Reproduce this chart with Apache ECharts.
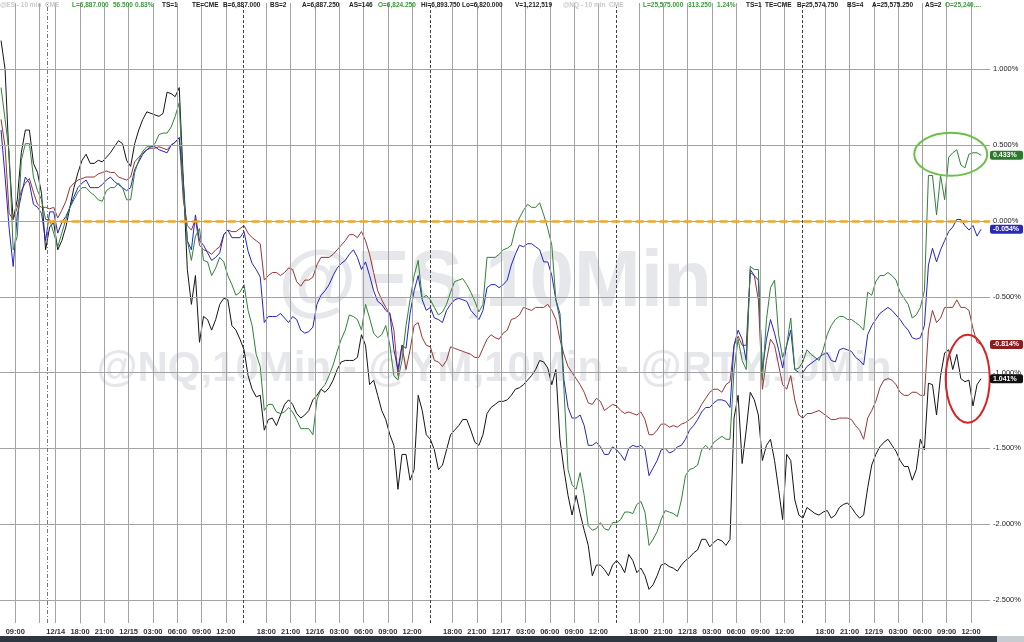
<!DOCTYPE html>
<html><head><meta charset="utf-8">
<script src="https://cdn.jsdelivr.net/npm/echarts@6/dist/echarts.min.js"></script>
<style>html,body{margin:0;padding:0;background:#fff}#c{width:1024px;height:642px}</style>
</head><body><div id="c"></div>
<script>
// x = trading hours since the 12/14 18:00 session open.
// "Hour" arrays hold readings on the hour grid, "Half" arrays the readings half an hour later.
const T0 = -9.75, HALF_STEP = 0.5;

const greenHour = [0.88,0.45,-0.10,0.51,0.29,0.14,0.01,-0.17,0.01,0.14,0.22,0.19,0.14,0.20,0.22,0.22,0.14,0.40,0.49,0.51,
 0.58,0.62,0.78,-0.13,-0.10,-0.26,-0.36,-0.24,-0.36,-0.49,-0.42,-0.69,-0.96,-1.21,-1.26,-1.26,-1.26,-1.37,-1.37,-1.18,
 -1.08,-0.95,-0.78,-0.62,-0.65,-0.55,-0.74,-0.75,-0.82,-1.05,-0.69,-0.36,-0.51,-0.52,-0.62,-0.55,-0.40,-0.38,-0.47,-0.60,
 -0.24,-0.24,-0.19,-0.16,0.02,0.11,0.09,0.04,-0.16,-0.65,-1.64,-1.77,-1.81,-2.04,-1.99,-2.04,-1.99,-1.92,-1.93,-1.85,
 -2.14,-2.05,-1.91,-1.93,-1.84,-1.64,-1.61,-1.48,-1.46,-1.42,-1.44,-0.78,-0.98,-0.32,-1.05,-0.44,-0.75,-0.82,-0.98,-0.93,
 -0.88,-0.92,-0.75,-0.65,-0.63,-0.65,-0.69,-0.47,-0.40,-0.36,-0.36,-0.47,-0.55,-0.62,-0.46,0.30,0.30,0.42,0.47,0.35,0.45,0.433];
const greenHalf = [0.67,-0.19,0.40,0.51,0.20,0.01,-0.08,-0.08,0.09,0.19,0.22,0.17,0.13,0.22,0.25,0.14,0.32,0.46,0.49,0.57,
 0.58,0.69,0.20,-0.26,-0.05,-0.27,-0.31,-0.27,-0.42,-0.47,-0.59,-0.88,-1.25,-1.21,-1.27,-1.23,-1.31,-1.37,-1.41,-1.11,
 -1.02,-0.86,-0.72,-0.63,-0.72,-0.64,-0.77,-0.69,-1.02,-0.92,-0.52,-0.26,-0.49,-0.57,-0.60,-0.47,-0.39,-0.42,-0.53,-0.55,
 -0.24,-0.22,-0.18,-0.05,0.07,0.09,0.12,-0.05,-0.52,-1.11,-1.74,-1.66,-2.01,-2.03,-2.03,-1.99,-1.97,-1.92,-1.87,-1.92,
 -2.10,-1.97,-1.92,-1.95,-1.68,-1.63,-1.51,-1.51,-1.44,-1.44,-0.98,-0.92,-0.30,-0.32,-0.65,-0.39,-0.90,-0.64,-0.97,-0.85,
 -0.90,-0.85,-0.69,-0.63,-0.65,-0.67,-0.72,-0.49,-0.36,-0.34,-0.39,-0.51,-0.64,-0.57,0.30,0.04,0.14,0.45,0.37,0.44,0.45];

const blueHour = [0.60,-0.05,0.04,0.29,0.11,0.05,0.06,-0.08,0.03,0.16,0.25,0.22,0.22,0.27,0.26,0.22,0.22,0.39,0.47,0.49,
 0.46,0.50,0.55,-0.13,0.04,-0.16,-0.26,-0.21,-0.06,-0.11,-0.07,-0.28,-0.37,-0.63,-0.63,-0.64,-0.63,-0.72,-0.73,-0.55,
 -0.46,-0.36,-0.28,-0.22,-0.24,-0.27,-0.46,-0.55,-0.61,-0.98,-0.84,-0.46,-0.52,-0.57,-0.65,-0.59,-0.52,-0.52,-0.59,-0.65,
 -0.44,-0.42,-0.42,-0.29,-0.16,-0.15,-0.17,-0.27,-0.36,-0.61,-1.23,-1.30,-1.35,-1.48,-1.49,-1.54,-1.51,-1.58,-1.48,-1.48,
 -1.68,-1.58,-1.50,-1.52,-1.48,-1.38,-1.31,-1.23,-1.20,-1.18,-1.23,-0.72,-0.92,-0.36,-0.98,-0.65,-0.85,-0.82,-0.98,-1.00,
 -0.94,-0.90,-0.87,-0.93,-0.84,-0.86,-0.92,-0.75,-0.65,-0.59,-0.59,-0.65,-0.72,-0.78,-0.69,-0.18,-0.19,-0.07,0.01,-0.03,-0.03,-0.054];
const blueHalf = [0.29,-0.30,0.17,0.25,0.09,-0.13,0.06,-0.01,0.09,0.22,0.27,0.22,0.24,0.29,0.24,0.20,0.34,0.44,0.49,0.47,
 0.45,0.52,0.27,-0.19,-0.13,-0.21,-0.24,-0.09,-0.11,-0.11,-0.20,-0.32,-0.67,-0.63,-0.61,-0.67,-0.65,-0.74,-0.70,-0.49,
 -0.42,-0.31,-0.26,-0.19,-0.32,-0.36,-0.53,-0.59,-0.85,-0.82,-0.61,-0.36,-0.59,-0.64,-0.67,-0.55,-0.51,-0.53,-0.62,-0.59,
 -0.42,-0.44,-0.39,-0.22,-0.17,-0.15,-0.19,-0.27,-0.52,-1.05,-1.30,-1.28,-1.48,-1.46,-1.54,-1.49,-1.54,-1.50,-1.49,-1.51,
 -1.63,-1.51,-1.53,-1.49,-1.44,-1.35,-1.26,-1.23,-1.18,-1.19,-0.82,-0.78,-0.32,-0.39,-0.78,-0.74,-0.97,-0.72,-1.00,-0.96,
 -0.92,-0.88,-0.92,-0.85,-0.85,-0.90,-0.95,-0.69,-0.61,-0.57,-0.62,-0.69,-0.77,-0.77,-0.29,-0.27,-0.13,-0.04,0.01,-0.06,-0.10];

const redHour = [0.67,0.05,0.09,0.25,0.19,0.09,0.08,0.02,0.13,0.25,0.28,0.29,0.31,0.33,0.32,0.28,0.29,0.42,0.47,0.48,
 0.48,0.50,0.55,-0.03,0.01,-0.19,-0.22,-0.17,-0.06,-0.07,-0.03,-0.11,-0.15,-0.36,-0.34,-0.34,-0.32,-0.43,-0.39,-0.29,
 -0.24,-0.22,-0.16,-0.09,-0.11,-0.13,-0.34,-0.52,-0.61,-1.02,-0.98,-0.69,-0.77,-0.83,-0.93,-0.92,-0.84,-0.86,-0.88,-0.90,
 -0.78,-0.77,-0.74,-0.65,-0.62,-0.58,-0.57,-0.57,-0.59,-0.78,-0.96,-1.04,-1.13,-1.21,-1.19,-1.23,-1.22,-1.27,-1.27,-1.26,
 -1.41,-1.38,-1.34,-1.35,-1.34,-1.31,-1.26,-1.17,-1.11,-1.13,-1.06,-0.76,-0.82,-0.36,-1.11,-0.78,-0.95,-1.11,-1.18,-1.30,
 -1.27,-1.25,-1.29,-1.31,-1.30,-1.31,-1.38,-1.30,-1.19,-1.05,-1.05,-1.13,-1.15,-1.13,-1.15,-0.59,-0.64,-0.57,-0.52,-0.57,-0.71,-0.814];
const redHalf = [0.49,0.01,0.20,0.28,0.11,0.09,0.09,0.07,0.22,0.27,0.29,0.29,0.32,0.32,0.29,0.27,0.39,0.45,0.48,0.49,
 0.47,0.52,0.14,-0.06,-0.16,-0.20,-0.19,-0.09,-0.07,-0.05,-0.08,-0.13,-0.39,-0.34,-0.36,-0.31,-0.40,-0.39,-0.37,-0.24,
 -0.24,-0.19,-0.13,-0.09,-0.07,-0.22,-0.46,-0.57,-0.72,-0.82,-0.85,-0.67,-0.82,-0.92,-0.96,-0.83,-0.85,-0.87,-0.90,-0.84,
 -0.75,-0.78,-0.72,-0.64,-0.57,-0.59,-0.57,-0.55,-0.65,-0.88,-1.00,-1.08,-1.20,-1.17,-1.25,-1.21,-1.25,-1.26,-1.28,-1.31,
 -1.41,-1.34,-1.36,-1.36,-1.33,-1.29,-1.21,-1.13,-1.11,-1.08,-0.82,-0.82,-0.34,-0.52,-0.92,-0.82,-1.08,-1.02,-1.28,-1.27,
 -1.26,-1.27,-1.31,-1.30,-1.30,-1.35,-1.44,-1.25,-1.10,-1.04,-1.08,-1.15,-1.13,-1.15,-0.72,-0.67,-0.57,-0.57,-0.57,-0.59,-0.80];

const blackHour = [1.19,0.40,0.14,0.60,0.38,0.18,-0.04,-0.19,-0.04,0.22,0.40,0.38,0.40,0.42,0.49,0.51,0.36,0.60,0.72,0.70,
 0.71,0.84,0.88,-0.32,-0.36,-0.63,-0.72,-0.55,-0.52,-0.72,-0.85,-1.11,-1.15,-1.31,-1.35,-1.21,-1.21,-1.30,-1.25,-1.15,
 -1.13,-1.05,-0.93,-0.92,-0.90,-0.82,-1.05,-1.25,-1.41,-1.77,-1.54,-1.64,-1.25,-1.44,-1.64,-1.51,-1.38,-1.31,-1.38,-1.48,
 -1.27,-1.21,-1.19,-1.15,-1.10,-1.05,-0.98,-0.93,-1.08,-1.44,-1.81,-1.81,-2.04,-2.34,-2.27,-2.34,-2.24,-2.32,-2.24,-2.29,
 -2.43,-2.34,-2.26,-2.29,-2.27,-2.22,-2.17,-2.10,-2.12,-2.11,-2.10,-1.15,-1.38,-1.18,-1.58,-1.44,-1.77,-1.54,-1.84,-1.96,
 -1.91,-1.94,-1.91,-1.94,-1.87,-1.89,-1.96,-1.76,-1.54,-1.46,-1.48,-1.58,-1.62,-1.64,-1.51,-1.08,-1.02,-0.85,-0.88,-1.06,-1.22,-1.04];
const blackHalf = [1.00,0.01,0.45,0.60,0.32,-0.19,-0.01,-0.13,0.09,0.32,0.44,0.38,0.39,0.45,0.53,0.40,0.51,0.67,0.71,0.69,
 0.85,0.82,0.27,-0.55,-0.80,-0.65,-0.65,-0.51,-0.69,-0.78,-1.02,-1.16,-1.38,-1.30,-1.28,-1.18,-1.27,-1.28,-1.18,-1.11,
 -1.10,-0.98,-0.92,-0.92,-0.75,-1.08,-1.15,-1.31,-1.48,-1.54,-1.71,-1.15,-1.41,-1.51,-1.61,-1.41,-1.35,-1.31,-1.46,-1.41,
 -1.23,-1.19,-1.18,-1.11,-1.08,-1.02,-0.92,-0.97,-0.98,-1.64,-1.94,-1.93,-2.14,-2.27,-2.30,-2.27,-2.27,-2.20,-2.32,-2.34,
 -2.40,-2.27,-2.28,-2.31,-2.24,-2.19,-2.10,-2.15,-2.10,-2.14,-1.30,-1.60,-1.13,-1.28,-1.48,-1.58,-1.97,-1.58,-1.94,-1.89,
 -1.93,-1.92,-1.96,-1.89,-1.86,-1.93,-1.94,-1.61,-1.49,-1.44,-1.52,-1.62,-1.71,-1.44,-1.07,-1.28,-0.87,-0.98,-1.04,-1.05,-1.08];

// x-axis ticks (trading hours) and their labels
const tickPos  = [-8,-5,-3,0,3,6,9,12,15,18,23,26,29,32,35,38,41,46,49,52,55,58,61,64,69,72,75,78,81,84,87,92,95,98,101,104,107,110];
const tickText = ['09:00','','12/14','18:00','21:00','12/15','03:00','06:00','09:00','12:00',
 '18:00','21:00','12/16','03:00','06:00','09:00','12:00',
 '18:00','21:00','12/17','03:00','06:00','09:00','12:00',
 '18:00','21:00','12/18','03:00','06:00','09:00','12:00',
 '18:00','21:00','12/19','03:00','06:00','09:00','12:00'];
const weekendBreak = [-4];
const sessionBreaks = [20.2, 43.2, 66.2, 89.2];
const yTicks = [1.0, 0.5, 0, -0.5, -1.0, -1.5, -2.0, -2.5];
const lastLabels = ['0.433%', '-0.054%', '-0.814%', '1.041%'];

const X_MIN = -9.88, X_MAX = 112.35, Y_MIN = -2.652, Y_MAX = 1.438;
const interleave = (h, m) => h.flatMap((v, i) => i < m.length ? [v, m[i]] : [v]);
const pair = arr => arr.map((v, k) => [T0 + k * HALF_STEP, v]);

const greenSeries = interleave(greenHour, greenHalf);
const blueSeries = interleave(blueHour, blueHalf);
const redSeries = interleave(redHour, redHalf);
const blackSeries = interleave(blackHour, blackHalf);

const COLORS = { green: '#2e8436', blue: '#2424c8', red: '#9c3434', black: '#151515' };
const FONT = '"Liberation Sans", Arial, sans-serif';

const chart = echarts.init(document.getElementById('c'));

function lineSeries(name, arr, color, z) {
  return { name, type: 'line', data: pair(arr), showSymbol: false, symbol: 'none', z,
    lineStyle: { color, width: 1 }, animation: false, silent: true };
}

const option = {
  animation: false,
  backgroundColor: '#fff',
  grid: { left: 0, right: 34, top: 3, bottom: 19 },
  xAxis: {
    type: 'value', min: X_MIN, max: X_MAX,
    splitLine: { show: false }, axisLine: { show: false }, axisTick: { show: false },
    axisLabel: { customValues: tickPos, margin: 5, fontSize: 7.5, fontWeight: 'bold', color: '#333', fontFamily: FONT,
      formatter: v => { const k = tickPos.indexOf(v); return k >= 0 ? tickText[k] : ''; } }
  },
  yAxis: {
    type: 'value', position: 'right', min: Y_MIN, max: Y_MAX,
    splitLine: { show: false },
    axisLine: { show: true, lineStyle: { color: '#a0a0a0' } },
    axisTick: { show: true, customValues: yTicks, length: 3, lineStyle: { color: '#888' } },
    axisLabel: { customValues: yTicks, margin: 3, fontSize: 7.5, color: '#222', fontFamily: FONT,
      formatter: v => v.toFixed(3) + '%' }
  },
  series: [
    { name: 'grid', type: 'line', data: [], z: 1, silent: true,
      markLine: { silent: true, symbol: ['none', 'none'], label: { show: false }, animation: false,
        data: [
          ...yTicks.map(v => ({ yAxis: v, lineStyle: { color: '#a3a3a3', width: 1, type: 'solid' } })),
          ...tickPos.map(v => ({ xAxis: v, lineStyle: { color: '#a3a3a3', width: 1, type: 'solid' } })),
          ...weekendBreak.map(v => ({ xAxis: v, lineStyle: { color: '#777', width: 1, type: [4, 2, 1, 2] } })),
          ...sessionBreaks.map(v => ({ xAxis: v, lineStyle: { color: '#444', width: 1, type: [3, 2] } }))
        ] } },
    lineSeries('@RTY', blackSeries, COLORS.black, 2),
    lineSeries('@NQ', redSeries, COLORS.red, 2),
    lineSeries('@ES', blueSeries, COLORS.blue, 2),
    lineSeries('@YM', greenSeries, COLORS.green, 2),
    { name: 'zero', type: 'line', data: [], z: 3, silent: true,
      markLine: { silent: true, symbol: ['none', 'none'], label: { show: false }, animation: false,
        data: [[{ coord: [-4, 0] }, { coord: [X_MAX, 0] }]],
        lineStyle: { color: '#f5a524', width: 2.5, type: [8, 4] } } }
  ]
};
chart.setOption(option);

// decorations positioned through the chart's own scales
const px = (x, y) => chart.convertToPixel({ gridIndex: 0 }, [x, y]);
const els = [];
// watermark
els.push({ type: 'text', z: 0, silent: true, style: { x: 495, y: 284, text: '@ES,10Min', font: 'bold 80px ' + FONT, fill: '#e5e7eb', align: 'center', verticalAlign: 'middle' } });
els.push({ type: 'text', z: 0, silent: true, style: { x: 494, y: 369, text: '@NQ,10Min - @YM,10Min - @RTY,10Min', font: 'bold 42px ' + FONT, fill: '#e5e7eb', align: 'center', verticalAlign: 'middle' } });
// header
const G = '#3a9a3a', D = '#222', L = '#c4c6ca';
const header = [
  [0, '@ES - 10 min  CME', L], [72, 'L=6,887.000', G], [113, '56.500', G], [135, '0.83%', G],
  [162, 'TS=1', D], [192, 'TE=CME', D], [223, 'B=6,887.000', D], [270, 'BS=2', D],
  [302, 'A=6,887.250', D], [349, 'AS=146', D], [378, 'O=6,824.250', G], [421, 'Hi=6,893.750', D],
  [462, 'Lo=6,820.000', D], [515, 'V=1,212,519', D], [563, '@NQ - 10 min  CME', L],
  [643, 'L=25,575.000', G], [688, '313.250', G], [717, '1.24%', G], [746, 'TS=1', D],
  [765, 'TE=CME', D], [797, 'B=25,574.750', D], [847, 'BS=4', D], [872, 'A=25,575.250', D],
  [925, 'AS=2', D], [945, 'O=25,240....', G]
];
header.forEach(([x, t, c]) => els.push({ type: 'text', z: 20, silent: true,
  style: { x, y: 5, text: t, font: 'bold 6.5px ' + FONT, fill: c, verticalAlign: 'middle' } }));
// last value badges
const lasts = [greenSeries, blueSeries, redSeries, blackSeries].map(a => a[a.length - 1]);
const badgeColors = ['#2a7a2a', '#2a2ab8', '#8b1e1e', '#111'];
lasts.forEach((v, k) => {
  const y = px(X_MAX, v)[1];
  els.push({ type: 'rect', z: 20, silent: true, shape: { x: 990, y: y - 4.5, width: 33, height: 9, r: 2 }, style: { fill: badgeColors[k] } });
  els.push({ type: 'text', z: 21, silent: true, style: { x: 993, y: y, text: lastLabels[k], font: 'bold 7px ' + FONT, fill: '#fff', verticalAlign: 'middle' } });
});
// annotation ellipses
const gc = px(107.5, 0.44), rc = px(109.6, -1.04);
els.push({ type: 'ellipse', z: 15, silent: true, shape: { cx: gc[0], cy: gc[1], rx: 36.5, ry: 21.5 }, style: { fill: 'none', stroke: '#6cc04a', lineWidth: 2 } });
els.push({ type: 'ellipse', z: 15, silent: true, shape: { cx: rc[0], cy: rc[1], rx: 22, ry: 44 }, style: { fill: 'none', stroke: '#d42424', lineWidth: 2 } });
// bottom bar
els.push({ type: 'rect', z: 20, silent: true, shape: { x: 0, y: 636, width: 1024, height: 6 }, style: { fill: '#2e3641' } });
els.push({ type: 'rect', z: 21, silent: true, shape: { x: 997, y: 636, width: 27, height: 6 }, style: { fill: '#c8ccd1' } });
chart.setOption({ graphic: { elements: els } });
</script>
</body></html>
